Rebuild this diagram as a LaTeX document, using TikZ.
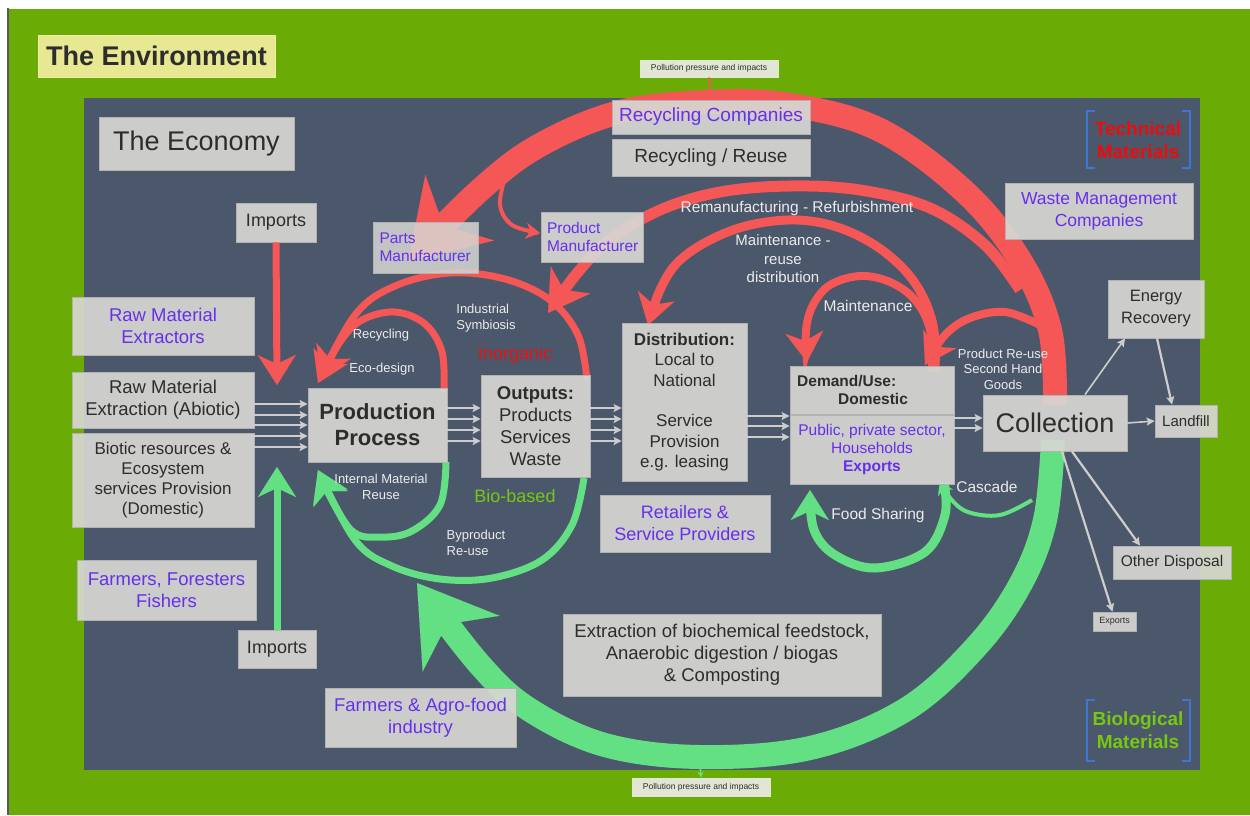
\documentclass[tikz,border=0pt]{standalone}
\usepackage{fontspec}
\setmainfont{Liberation Sans}
\usetikzlibrary{arrows.meta}
\definecolor{envgreen}{RGB}{107,171,6}
\definecolor{econ}{RGB}{75,87,106}
\definecolor{arcred}{RGB}{245,86,86}
\definecolor{arcgreen}{RGB}{100,224,132}
\definecolor{purp}{RGB}{102,48,235}
\definecolor{boxfill}{RGB}{215,215,211}
\definecolor{boxline}{RGB}{178,178,176}
\definecolor{dtext}{RGB}{45,45,45}
\definecolor{wlabel}{RGB}{236,236,236}
\definecolor{inorg}{RGB}{236,16,16}
\definecolor{biob}{RGB}{118,200,18}
\definecolor{techred}{RGB}{236,12,12}
\definecolor{bluebr}{RGB}{60,120,210}
\definecolor{envbox}{RGB}{232,232,146}
\definecolor{pollbox}{RGB}{226,230,212}
\definecolor{flowgray}{RGB}{205,205,205}
\newcommand\fsz[2]{\fontsize{#1}{#2}\selectfont}
\begin{document}
\begin{tikzpicture}[x=1pt,y=-1pt,
  box/.style={draw=boxline, line width=0.8pt, fill=boxfill, fill opacity=0.92, text opacity=1, inner sep=0pt, align=center, text=dtext},
  pbox/.style={box, text=purp},
  wl/.style={text=wlabel, align=center, inner sep=0pt},
  redarc/.style={draw=arcred, line width=#1},
  greenarc/.style={draw=arcgreen, line width=#1},
  tipbig/.style={-{Stealth[length=75pt,width=95pt,inset=24pt,line width=0.1pt]}},
  tipmid/.style={-{Stealth[length=30pt,width=38pt,inset=9pt,line width=0.1pt]}},
  tipre/.style={-{Stealth[length=40pt,width=48pt,inset=12pt,line width=0.1pt]}},
  tipsmall/.style={-{Stealth[length=14pt,width=16pt,inset=4pt,line width=0.1pt]}},
  flow/.style={draw=flowgray, line width=1.6pt, -{Stealth[length=8pt,width=8pt,inset=1.5pt]}},
  brk/.style={draw=bluebr, line width=1.2pt}
]
\useasboundingbox (0,0) rectangle (1250,815);
\fill[white] (0,0) rectangle (1250,815);
\fill[envgreen] (9,9) rectangle (1250,815);
\draw[line width=1.5pt, black!65] (8,8) -- (8,815);
\fill[econ] (84,98) rectangle (1200,770);

% ---- big loops
\draw[greenarc=24pt, tipbig] plot[smooth, tension=0.6] coordinates {(1053,440) (1045,520) (1020,585) (975,648) (905,710) (810,748) (700,757) (605,745) (530,710) (480,665) (417,583)};
\draw[redarc=24pt, tipbig] plot[smooth, tension=0.6] coordinates {(1055,405) (1050,330) (1020,260) (965,192) (880,130) (790,105) (710,102) (620,112) (540,145) (480,190) (408,262)};
\draw[redarc=4pt, tipsmall] plot[smooth, tension=0.6] coordinates {(505,178) (500,205) (512,225) (540,233)};
% remanufacturing
\draw[redarc=11pt, tipre] plot[smooth, tension=0.6] coordinates {(1020,290) (985,245) (930,208) (860,190) (790,186) (720,192) (660,210) (610,240) (578,272) (548,313)};
% maintenance - reuse distribution
\draw[redarc=9pt, tipmid] plot[smooth, tension=0.6] coordinates {(935,372) (933,325) (915,283) (882,250) (840,228) (797,220) (750,225) (710,240) (678,262) (660,290) (648,325)};
% maintenance
\draw[redarc=8pt, tipmid] plot[smooth, tension=0.6] coordinates {(932,372) (930,330) (915,300) (890,282) (860,276) (830,285) (813,305) (806,330) (807,362)};
% product re-use
\draw[redarc=8pt, tipmid] plot[smooth, tension=0.6] coordinates {(1040,325) (1005,312) (970,318) (945,335) (925,365)};
% industrial symbiosis
\draw[redarc=7pt, tipmid] plot[smooth, tension=0.6] coordinates {(587,380) (578,335) (550,300) (505,279) (450,273) (395,286) (355,315) (318,383)};
% recycling / eco-design
\draw[redarc=7pt, tipmid] plot[smooth, tension=0.6] coordinates {(444,392) (442,352) (425,324) (395,312) (362,320) (340,342) (321,378)};
% byproduct re-use
\draw[greenarc=7pt, tipmid] plot[smooth, tension=0.6] coordinates {(584,478) (572,525) (542,560) (492,578) (440,579) (392,566) (355,540) (318,470)};
% internal material reuse
\draw[greenarc=7pt, tipmid] plot[smooth, tension=0.6] coordinates {(446,462) (440,505) (412,531) (381,537) (350,529) (318,472)};
% food sharing
\draw[greenarc=9pt, tipmid] plot[smooth, tension=0.6] coordinates {(944,483) (945,515) (925,552) (875,568) (835,555) (814,530) (810,490)};
% cascade
\draw[greenarc=4pt, tipsmall] plot[smooth, tension=0.6] coordinates {(1032,500) (1000,515) (968,512) (950,498) (940,480)};
\draw[black!60, line width=1.2pt] (586,380) .. controls (592,410) and (591,445) .. (584,478);

% ---- boxes
\node[box, minimum width=237pt, minimum height=42pt, fill=envbox, fill opacity=1, draw=envbox!80!white, font=\fsz{27}{30}\bfseries] (env) at (156.5,56) {The Environment};
\node[box, minimum width=195pt, minimum height=53pt, font=\fsz{27}{30}] (econ) at (196.5,143.5) {The Economy};
\node[box, minimum width=138pt, minimum height=17pt, font=\fsz{8.5}{10}, fill=pollbox, fill opacity=1, draw=pollbox] (polltop) at (709,68.5) {Pollution pressure and impacts};
\node[pbox, minimum width=198pt, minimum height=34pt, font=\fsz{19}{22}] (reccomp) at (711,117) {Recycling Companies};
\node[box, minimum width=198pt, minimum height=37pt, font=\fsz{19}{22}] (recreuse) at (711,157.5) {Recycling / Reuse};
\node[pbox, minimum width=188pt, minimum height=56pt, font=\fsz{17.5}{22}] (waste) at (1099,211) {Waste Management\\Companies};
\node[box, minimum width=80pt, minimum height=39pt, font=\fsz{18}{22}] (impA) at (276,222.5) {Imports};
\node[pbox, minimum width=105pt, minimum height=51pt, text width=92pt, align=left, font=\fsz{15.5}{18}, fill opacity=0.85] (parts) at (425.5,247.5) {Parts\\Manufacturer};
\node[pbox, minimum width=102pt, minimum height=50pt, text width=90pt, align=left, font=\fsz{15.5}{18}] (prodman) at (592,237) {Product\\Manufacturer};
\node[pbox, minimum width=182pt, minimum height=58pt, font=\fsz{18.5}{22}] (rme) at (163,326) {Raw Material\\Extractors};
\node[box, minimum width=182pt, minimum height=56pt, font=\fsz{18.5}{22}] (rmx) at (163,400) {Raw Material\\Extraction (Abiotic)};
\node[box, minimum width=182pt, minimum height=94pt, font=\fsz{17}{20}] (biotic) at (163,480) {Biotic resources \&\\Ecosystem\\services Provision\\(Domestic)};
\node[box, minimum width=139pt, minimum height=74pt, font=\fsz{22}{26}\bfseries] (prod) at (377.5,425) {Production\\Process};
\node[box, minimum width=109pt, minimum height=102pt, font=\fsz{18.5}{22}] (outputs) at (535.5,426) {\textbf{Outputs:}\\Products\\Services\\Waste};
\node[box, minimum width=125pt, minimum height=158pt, font=\fsz{17}{20.3}] (distrib) at (684.5,402) {\textbf{Distribution:}\\Local to\\National\\[20.3pt]Service\\Provision\\e.g. leasing};
\node[box, minimum width=164pt, minimum height=48pt] (demtop) at (872,390) {};
\node[pbox, minimum width=164pt, minimum height=69pt, font=\fsz{15.5}{18}] (dembot) at (872,449.5) {Public, private sector,\\Households\\\textbf{Exports}};
\node[wl, text=dtext, anchor=west, font=\fsz{15.5}{18}\bfseries] (demlab) at (797,381) {Demand/Use:};
\node[wl, text=dtext, font=\fsz{15.5}{18}\bfseries] (domlab) at (873,399) {Domestic};
\node[box, minimum width=144pt, minimum height=56pt, font=\fsz{27}{30}] (coll) at (1055,423) {Collection};
\node[box, minimum width=96pt, minimum height=58pt, font=\fsz{16.5}{22}] (energy) at (1156,309) {Energy\\Recovery};
\node[box, minimum width=62pt, minimum height=32pt, font=\fsz{15}{18}] (landfill) at (1186,421) {Landfill};
\node[box, minimum width=118pt, minimum height=33pt, font=\fsz{15.5}{18}] (other) at (1172,562.5) {Other Disposal};
\node[box, minimum width=43pt, minimum height=19pt, font=\fsz{9}{10}] (exports) at (1114.5,621.5) {Exports};
\node[pbox, minimum width=170pt, minimum height=57pt, font=\fsz{18}{22}] (retail) at (685,523.5) {Retailers \&\\Service Providers};
\node[pbox, minimum width=179pt, minimum height=60pt, font=\fsz{18.5}{22}] (farmers) at (166.5,590) {Farmers, Foresters\\Fishers};
\node[box, minimum width=78pt, minimum height=38pt, font=\fsz{18}{22}] (impB) at (277,649) {Imports};
\node[pbox, minimum width=191pt, minimum height=59pt, font=\fsz{18.5}{22}] (agro) at (420.5,717.5) {Farmers \& Agro-food\\industry};
\node[box, minimum width=318pt, minimum height=82pt, font=\fsz{18.5}{22}] (extract) at (722,655) {Extraction of biochemical feedstock,\\Anaerobic digestion / biogas\\\& Composting};
\node[box, minimum width=138pt, minimum height=18pt, font=\fsz{8.5}{10}, fill=pollbox, fill opacity=1, draw=pollbox] (pollbot) at (701,787) {Pollution pressure and impacts};

% ---- pollution connectors
\draw[arcred, line width=2pt] (710,92) -- (polltop.south);
\draw[arcgreen, line width=1.5pt, -{Stealth[length=6pt,width=6pt]}] (700,766) -- (pollbot.north);

% ---- imports arrows
\draw[redarc=7pt, tipmid] (impA.south) -- (277,385);
\draw[greenarc=7pt, tipmid] (impB.north) -- (277,467);

% ---- flow arrows
\foreach \yy in {404,415,425,436,447} \draw[flow] (rmx.east |- 0,\yy) -- (prod.west |- 0,\yy);
\foreach \yy in {408,419,430,441} \draw[flow] (prod.east |- 0,\yy) -- (outputs.west |- 0,\yy);
\foreach \yy in {408,419,430,441} \draw[flow] (outputs.east |- 0,\yy) -- (distrib.west |- 0,\yy);
\foreach \yy in {416,426,437} \draw[flow] (distrib.east |- 0,\yy) -- (dembot.west |- 0,\yy);
\foreach \yy in {418,428} \draw[flow] (dembot.east |- 0,\yy) -- (coll.west |- 0,\yy);
\draw[flow] (coll.east) -- (landfill.west);
\draw[flow] ([xshift=30pt]coll.north) -- ([xshift=-31pt]energy.south);
\draw[flow, line width=2.2pt] ([xshift=1pt]energy.south) -- ([xshift=-14pt]landfill.north);
\draw[flow, line width=2.2pt] ([xshift=17pt]coll.south) -- ([xshift=-32pt]other.north);
\draw[flow, line width=2.2pt] ([xshift=7pt]coll.south) -- ([xshift=-2pt]exports.north);

% ---- white labels
\node[wl, font=\fsz{15.5}{18}] (lremf) at (797,208) {Remanufacturing - Refurbishment};
\node[wl, font=\fsz{15}{18.5}] (lmrd) at (783,259) {Maintenance -\\reuse\\distribution};
\node[wl, font=\fsz{15.5}{18}] (lmaint) at (868,306) {Maintenance};
\node[wl, font=\fsz{13}{15.5}] (lpru) at (1003,369) {Product Re-use\\Second Hand\\Goods};
\node[wl, font=\fsz{15.5}{18}] (lcasc) at (987,487) {Cascade};
\node[wl, font=\fsz{15.5}{18}] (lfood) at (878,515) {Food Sharing};
\node[wl, font=\fsz{13}{16}, align=left] (lind) at (486,318) {Industrial\\Symbiosis};
\node[wl, font=\fsz{13}{16}] (lrec) at (381,335) {Recycling};
\node[wl, font=\fsz{13}{16}] (leco) at (382,369) {Eco-design};
\node[wl, text=inorg, font=\fsz{18}{22}] (linorg) at (515,355) {Inorganic};
\node[wl, font=\fsz{13}{15.5}] (lint) at (381,487) {Internal Material\\Reuse};
\node[wl, text=biob, font=\fsz{18}{22}] (lbio) at (515,496) {Bio-based};
\node[wl, font=\fsz{13}{15.5}, align=left] (lbyp) at (476,543) {Byproduct\\Re-use};

% ---- material categories
\node[wl, text=techred, font=\fsz{19}{23}\bfseries] (tech) at (1138,140) {Technical\\Materials};
\draw[brk] (1095,111) -- (1087,111) -- (1087,168) -- (1095,168);
\draw[brk] (1182,111) -- (1190,111) -- (1190,168) -- (1182,168);
\node[wl, text=biob, font=\fsz{19}{23}\bfseries] (biol) at (1138,730) {Biological\\Materials};
\draw[brk] (1095,700) -- (1087,700) -- (1087,761) -- (1095,761);
\draw[brk] (1182,700) -- (1190,700) -- (1190,761) -- (1182,761);
\end{tikzpicture}
\end{document}
